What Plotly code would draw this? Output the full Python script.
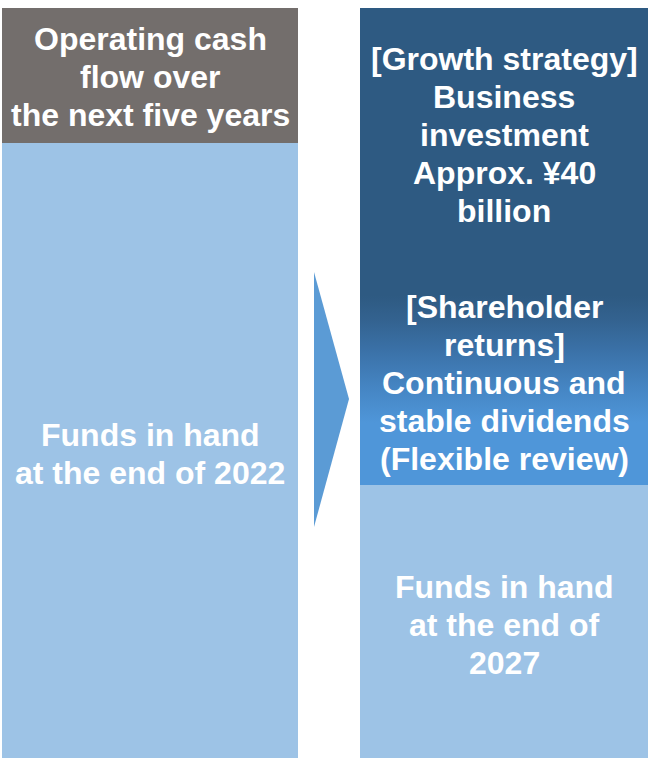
import plotly.graph_objects as go
import numpy as np

# ---- data (arbitrary stacked units, bottom -> top) ----
left_labels = [
    "Funds in hand<br>at the end of 2022",
    "Operating cash<br>flow over<br>the next five years",
]
left_values = [615, 135]

right_labels = [
    "Funds in hand<br>at the end of<br>2027",
    "[Shareholder<br>returns]<br>Continuous and<br>stable dividends<br>(Flexible review)",
    "[Growth strategy]<br>Business<br>investment<br>Approx. ¥40<br>billion",
]
right_values = [273, 195, 282]

# ---- styling ----
left_colors = ["#9dc3e6", "#736e6c"]
right_colors = ["#9dc3e6", "#4f96d9", "#2e5a82"]
gradient_scale = [
    [0.0, "#4f96d9"], [0.32, "#4f96d9"], [0.5, "#4585c3"],
    [0.7, "#3a70a6"], [0.85, "#33628f"], [0.97, "#2e5a82"], [1.0, "#2e5a82"],
]
left_x, left_w = 150, 296
right_x, right_w = 504, 288
label_offsets_left = [-3.5, -1.5]      # px, positive = up
label_offsets_right = [-3.5, 5, 14]
LINE = 38
FONT = dict(family="Arial, Liberation Sans, sans-serif", size=32, color="white", weight="bold")

fig = go.Figure()
annotations = []


def add_stack(xc, w, values, colors, labels, offsets, gradient_idx=None):
    bases = np.concatenate([[0], np.cumsum(values)[:-1]])
    for i, (v, b, c, lab, off) in enumerate(zip(values, bases, colors, labels, offsets)):
        fig.add_trace(go.Bar(x=[xc], y=[v], base=[b], width=w, marker=dict(color=c, line=dict(width=0)),
                             hoverinfo="skip"))
        if gradient_idx == i:
            x0, x1 = xc - w / 2, xc + w / 2
            fig.add_trace(go.Scatter(
                x=[x0, x1, x1, x0, x0], y=[b, b, b + v, b + v, b], mode="lines",
                fill="toself", line=dict(width=0),
                fillgradient=dict(type="vertical", colorscale=gradient_scale, start=b, stop=b + v),
                hoverinfo="skip"))
        lines = lab.split("<br>")
        n = len(lines)
        for j, ln in enumerate(lines):
            annotations.append(dict(
                x=xc, y=b + v / 2, xref="x", yref="y", text=ln, showarrow=False,
                xanchor="center", yanchor="middle", font=FONT,
                yshift=off - (j - (n - 1) / 2) * LINE))


add_stack(left_x, left_w, left_values, left_colors, left_labels, label_offsets_left)
add_stack(right_x, right_w, right_values, right_colors, right_labels, label_offsets_right, gradient_idx=1)

fig.update_layout(
    width=649, height=758, margin=dict(l=0, r=0, t=0, b=0),
    paper_bgcolor="white", plot_bgcolor="white", showlegend=False,
    barmode="overlay", hovermode=False,
    xaxis=dict(range=[0, 649], visible=False, fixedrange=True),
    yaxis=dict(range=[0, 758], visible=False, fixedrange=True),
    annotations=annotations,
    shapes=[dict(type="path", xref="x", yref="y",
                 path="M 314,486 L 349,359 L 314,231 Z",
                 fillcolor="#5b9bd5", line=dict(width=0), layer="above")],
)

fig.write_html("out.html", config={"displayModeBar": False},
               post_script="document.body.style.margin='0';document.body.style.overflow='hidden';")
